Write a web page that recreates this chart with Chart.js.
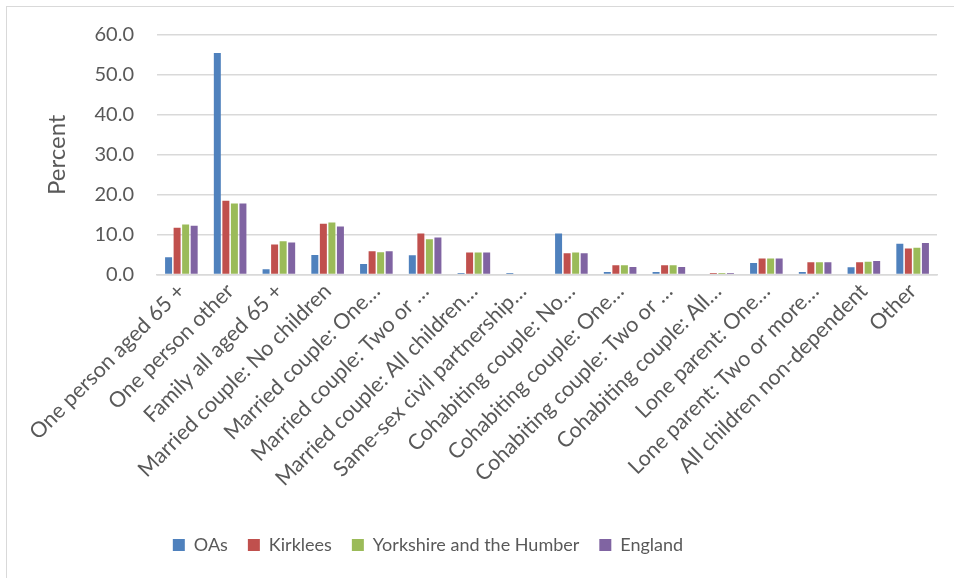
<!DOCTYPE html>
<html>
<head>
<meta charset="utf-8">
<script src="https://cdn.jsdelivr.net/npm/chart.js@4/dist/chart.umd.min.js"></script>
<style>
  html, body { margin: 0; padding: 0; background: #fff; }
  #wrap { position: relative; width: 954px; height: 578px; overflow: hidden; }
  #frame { position: absolute; left: 6px; top: 6px; width: 1000px; height: 1000px;
           border-left: 1.5px solid #d9d9d9; border-top: 1.5px solid #d9d9d9; pointer-events: none; }
  canvas { position: absolute; left: 0; top: 0; }
</style>
</head>
<body>
<div id="wrap">
  <canvas id="c" width="954" height="578"></canvas>
  <div id="frame"></div>
</div>
<script>
const categories = [
  "One person aged 65 +",
  "One person other",
  "Family all aged 65 +",
  "Married couple: No children",
  "Married couple: One…",
  "Married couple: Two or …",
  "Married couple: All children…",
  "Same-sex civil partnership…",
  "Cohabiting couple: No…",
  "Cohabiting couple: One…",
  "Cohabiting couple: Two or …",
  "Cohabiting couple: All…",
  "Lone parent: One…",
  "Lone parent: Two or more…",
  "All children non-dependent",
  "Other"
];
const seriesNames = ["OAs", "Kirklees", "Yorkshire and the Humber", "England"];
const oas       = [4.3, 55.5, 1.3, 4.9, 2.6, 4.8, 0.4, 0.4, 10.3, 0.6, 0.6, 0.0, 2.9, 0.6, 1.8, 7.7];
const kirklees  = [11.7, 18.5, 7.5, 12.7, 5.8, 10.3, 5.5, 0.0, 5.3, 2.3, 2.3, 0.4, 4.0, 3.1, 3.1, 6.5];
const yorkshire = [12.5, 17.8, 8.3, 13.0, 5.6, 8.8, 5.5, 0.0, 5.5, 2.3, 2.3, 0.4, 4.0, 3.1, 3.2, 6.7];
const england   = [12.2, 17.8, 8.0, 12.0, 5.8, 9.3, 5.5, 0.0, 5.3, 1.9, 1.9, 0.4, 4.0, 3.1, 3.4, 7.9];
const yTicks = [0, 10, 20, 30, 40, 50, 60];

const colors = ["#4F81BD", "#C0504D", "#9BBB59", "#8064A2"];
const values = [oas, kirklees, yorkshire, england];
const textColor = "#595959";
const FONT = "Lato, 'Open Sans', sans-serif";

// Centre the legend under the whole (wider) chart frame, as in the original.
const legendShift = {
  id: "legendShift",
  afterLayout(chart) {
    const lg = chart.legend;
    if (lg) { lg.left = 10; lg.right = 846; }
  }
};

new Chart(document.getElementById("c"), {
  type: "bar",
  data: {
    labels: categories,
    datasets: seriesNames.map((n, i) => ({
      label: n,
      data: values[i],
      backgroundColor: colors[i],
      borderWidth: 0,
      categoryPercentage: 0.7,
      barPercentage: 0.82
    }))
  },
  plugins: [legendShift],
  options: {
    responsive: false,
    animation: false,
    devicePixelRatio: 1,
    layout: { padding: { left: 40, top: 35, right: 17, bottom: 14 } },
    plugins: {
      legend: {
        position: "bottom",
        labels: {
          color: textColor,
          font: { family: FONT, size: 18 },
          boxWidth: 12, boxHeight: 12,
          padding: 20
        }
      },
      tooltip: { enabled: false }
    },
    scales: {
      x: {
        grid: { display: false, drawTicks: false },
        border: { display: true, color: "#d9d9d9", width: 1.5 },
        ticks: {
          color: textColor,
          font: { family: FONT, size: 21.5 },
          maxRotation: 45, minRotation: 45,
          autoSkip: false,
          padding: 4
        },
        afterFit: s => { s.height = 241.5; }
      },
      y: {
        min: 0, max: 60,
        afterBuildTicks: s => { s.ticks = yTicks.map(v => ({ value: v })); },
        grid: { color: "#d9d9d9", lineWidth: 1.5, drawTicks: false },
        border: { display: false },
        ticks: {
          color: textColor,
          font: { family: FONT, size: 20 },
          padding: 23,
          callback: v => Number(v).toFixed(1)
        },
        title: {
          display: true, text: "Percent", color: textColor,
          font: { family: FONT, size: 24 },
          padding: { top: 3, bottom: 0 }
        },
        afterFit: s => { s.width = 117; }
      }
    }
  }
});
</script>
</body>
</html>
